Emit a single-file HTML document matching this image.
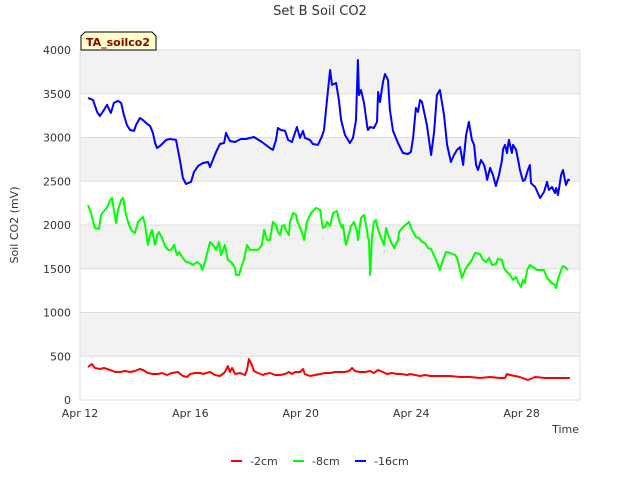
<!DOCTYPE html>
<html><head><meta charset="utf-8"><style>
html,body{margin:0;padding:0;background:#fff;}
svg text{font-family:"DejaVu Sans","Liberation Sans",sans-serif;}
</style></head><body>
<svg id="chart" width="640" height="480" viewBox="0 0 640 480" xmlns="http://www.w3.org/2000/svg">
<rect width="640" height="480" fill="#fff"/>
<text x="320" y="15" text-anchor="middle" font-size="13" fill="#333">Set B Soil CO2</text>
<g id="bands"></g>
<g id="grid"></g>
<g id="yticks"></g>
<g id="xticks"></g>
<text transform="translate(18,225) rotate(-90)" text-anchor="middle" font-size="11" fill="#333">Soil CO2 (mV)</text>
<text x="579" y="433" text-anchor="end" font-size="11" fill="#333">Time</text>
<g id="series"></g>
<g>
<path d="M81,50 L81,36 L85,32 L152,32 L156,36 L156,50 Z" fill="#ffffcc" stroke="#000" stroke-width="1"/>
<text x="118" y="46" text-anchor="middle" font-size="11" font-weight="bold" fill="#8b0000">TA_soilco2</text>
</g>
<g>
<line x1="231" y1="461" x2="242" y2="461" stroke="#ff0000" stroke-width="2"/>
<text x="250" y="465" font-size="11" fill="#333">-2cm</text>
<line x1="293" y1="461" x2="304" y2="461" stroke="#00ff00" stroke-width="2"/>
<text x="312" y="465" font-size="11" fill="#333">-8cm</text>
<line x1="355" y1="461" x2="366" y2="461" stroke="#0000ff" stroke-width="2"/>
<text x="374" y="465" font-size="11" fill="#333">-16cm</text>
</g>
</svg>
<script>
const yTicks=[0,500,1000,1500,2000,2500,3000,3500,4000];
const xTickDays=[0,4,8,12,16];
const xTickLabels=["Apr 12","Apr 16","Apr 20","Apr 24","Apr 28"];
const blueDays=[0.29,0.47,0.62,0.72,0.87,0.98,1.12,1.23,1.38,1.49,1.59,1.70,1.81,1.96,2.03,2.17,2.28,2.43,2.54,2.64,2.72,2.79,2.90,3.01,3.12,3.26,3.48,3.62,3.73,3.84,4.02,4.13,4.28,4.46,4.64,4.71,4.93,5.07,5.22,5.29,5.43,5.62,5.83,6.01,6.30,6.59,6.88,6.99,7.10,7.17,7.28,7.43,7.54,7.68,7.86,7.97,8.08,8.15,8.33,8.44,8.62,8.77,8.84,8.95,9.06,9.13,9.28,9.38,9.46,9.60,9.78,9.89,10.00,10.07,10.11,10.18,10.29,10.40,10.43,10.51,10.65,10.76,10.80,10.87,10.98,11.05,11.16,11.23,11.34,11.52,11.70,11.88,11.99,12.07,12.17,12.25,12.32,12.39,12.57,12.72,12.83,12.93,13.04,13.19,13.30,13.44,13.55,13.66,13.77,13.84,13.88,13.99,14.09,14.20,14.28,14.35,14.42,14.53,14.64,14.71,14.75,14.86,14.96,15.07,15.18,15.29,15.33,15.40,15.47,15.54,15.65,15.69,15.80,15.91,15.94,16.05,16.12,16.23,16.30,16.34,16.41,16.49,16.67,16.81,16.92,16.99,17.10,17.21,17.25,17.32,17.43,17.50,17.61,17.68,17.75];
const blueVals=[3452,3429,3292,3246,3315,3372,3280,3395,3418,3395,3258,3143,3086,3075,3143,3223,3200,3155,3132,3052,2937,2880,2903,2937,2972,2983,2972,2743,2537,2469,2492,2606,2675,2709,2720,2663,2835,2926,2937,3052,2960,2949,2983,2983,3006,2949,2880,2858,2972,3109,3086,3075,2972,2949,3120,2995,3075,2995,2972,2926,2915,3018,3086,3429,3772,3601,3623,3429,3200,3029,2937,2995,3200,3886,3486,3543,3395,3143,3086,3120,3109,3178,3520,3406,3635,3726,3658,3315,3075,2937,2823,2812,2835,2995,3338,3292,3429,3406,3143,2800,3063,3486,3543,3258,2915,2720,2800,2858,2892,2766,2686,3029,3178,2972,2915,2686,2629,2743,2686,2595,2515,2652,2572,2446,2572,2743,2869,2915,2823,2972,2823,2915,2858,2686,2629,2503,2515,2629,2686,2480,2457,2435,2309,2377,2492,2400,2435,2366,2423,2343,2572,2629,2457,2515,2515];
const greenDays=[0.29,0.40,0.54,0.69,0.76,0.91,1.01,1.09,1.16,1.20,1.30,1.38,1.49,1.56,1.67,1.74,1.85,1.99,2.10,2.17,2.28,2.36,2.43,2.46,2.54,2.61,2.68,2.72,2.79,2.86,2.97,3.08,3.19,3.30,3.41,3.51,3.59,3.73,3.84,3.99,4.09,4.24,4.38,4.42,4.53,4.71,4.82,4.93,5.04,5.11,5.25,5.36,5.51,5.62,5.65,5.76,5.87,5.94,6.05,6.16,6.30,6.45,6.59,6.67,6.78,6.88,6.99,7.10,7.17,7.25,7.32,7.39,7.46,7.57,7.61,7.72,7.83,7.86,8.01,8.12,8.22,8.37,8.55,8.70,8.80,8.88,8.95,9.06,9.17,9.31,9.38,9.49,9.53,9.60,9.64,9.71,9.82,9.93,10.04,10.07,10.18,10.29,10.40,10.43,10.47,10.51,10.58,10.65,10.72,10.80,10.91,11.01,11.09,11.16,11.27,11.38,11.52,11.56,11.67,11.92,12.03,12.17,12.28,12.39,12.50,12.61,12.72,12.90,13.04,13.15,13.26,13.41,13.59,13.66,13.77,13.84,13.95,14.06,14.20,14.31,14.49,14.60,14.71,14.82,14.93,15.07,15.14,15.29,15.36,15.47,15.58,15.69,15.80,15.87,15.98,16.05,16.12,16.20,16.30,16.41,16.56,16.67,16.81,16.92,16.99,17.10,17.21,17.25,17.32,17.43,17.50,17.61,17.68];
const greenVals=[2229,2137,1966,1955,2115,2172,2217,2286,2309,2229,2023,2172,2286,2309,2115,2035,1943,1909,2035,2057,2092,2000,1829,1772,1886,1943,1829,1772,1886,1920,1852,1760,1715,1715,1772,1657,1692,1623,1577,1566,1543,1577,1543,1486,1577,1806,1772,1715,1806,1657,1772,1600,1566,1509,1429,1429,1543,1600,1772,1715,1715,1715,1772,1943,1829,1829,2035,2000,1920,1886,1989,2000,1943,1886,2035,2137,2115,2057,1943,1829,2035,2137,2195,2172,1966,1977,2035,1989,2137,2160,2057,1966,2000,1829,1772,1863,1989,2035,1920,1829,2080,2115,1943,1852,1829,1429,1863,2035,2057,1943,1852,1772,1966,1886,1806,1737,1829,1920,1966,2035,1943,1863,1852,1806,1795,1737,1726,1600,1486,1600,1692,1680,1657,1623,1486,1394,1486,1543,1600,1680,1669,1600,1577,1623,1543,1554,1612,1600,1509,1463,1429,1372,1406,1349,1292,1372,1337,1486,1543,1520,1486,1486,1486,1394,1372,1337,1315,1280,1383,1486,1532,1509,1486];
const redDays=[0.29,0.43,0.54,0.72,0.87,1.09,1.27,1.45,1.63,1.81,1.99,2.17,2.28,2.46,2.64,2.83,2.97,3.15,3.33,3.55,3.73,3.88,3.99,4.17,4.35,4.49,4.57,4.71,4.89,5.07,5.22,5.29,5.36,5.43,5.51,5.62,5.80,5.98,6.05,6.12,6.23,6.30,6.45,6.63,6.70,6.88,7.07,7.25,7.43,7.57,7.68,7.79,7.97,8.08,8.15,8.33,8.51,8.70,8.88,9.06,9.24,9.42,9.60,9.75,9.86,9.96,10.14,10.33,10.51,10.65,10.80,10.98,11.12,11.30,11.49,11.67,11.85,11.96,12.14,12.32,12.50,12.68,13.04,13.41,13.77,14.13,14.49,14.86,15.22,15.40,15.47,15.58,15.94,16.23,16.49,16.85,17.03,17.39,17.75];
const redVals=[377,411,366,354,366,343,320,320,331,320,331,354,343,309,297,297,309,286,309,320,274,263,297,309,309,297,309,320,286,274,309,343,389,320,366,297,309,286,343,469,400,331,309,286,297,309,286,286,297,320,297,320,320,354,297,274,286,297,309,309,320,320,320,331,366,331,320,320,331,309,343,320,297,309,297,297,286,297,286,274,286,274,274,274,263,263,251,263,251,251,297,286,263,229,263,251,251,251,251];

const L=80,R=580,T=50,B=400,day0=0,pxPerDay=27.6;
const NS="http://www.w3.org/2000/svg";
function xs(d){return L+(d-day0)*pxPerDay;}
function ys(v){return B-(v/4000)*(B-T);}
function mk(tag,attrs,parent){const e=document.createElementNS(NS,tag);for(const k in attrs)e.setAttribute(k,attrs[k]);parent.appendChild(e);return e;}
const bands=document.getElementById('bands'),grid=document.getElementById('grid'),yt=document.getElementById('yticks'),xt=document.getElementById('xticks'),ser=document.getElementById('series');
for(let i=0;i<yTicks.length-1;i++){
  if(i%2===1){
    const r=mk('rect',{x:L,y:ys(yTicks[i+1]),width:R-L,height:ys(yTicks[i])-ys(yTicks[i+1]),fill:'#f2f2f2'},bands);
    
    
  }
}
yTicks.forEach(v=>{
  const ln=mk('line',{x1:L,x2:R,y1:ys(v),y2:ys(v),stroke:'#dddddd','stroke-width':1},grid);
  
  
  const t=mk('text',{x:L-9,y:ys(v)+4,'text-anchor':'end','font-size':11,fill:'#333'},yt);
  t.textContent=v;
  
  
});
const ax=mk('line',{x1:L,x2:L,y1:T,y2:B,stroke:'#dddddd','stroke-width':1},grid);


const ax2=mk('line',{x1:R,x2:R,y1:T,y2:B,stroke:'#dddddd','stroke-width':1},grid);


xTickDays.forEach((d,i)=>{
  const t=mk('text',{x:xs(d),y:417,'text-anchor':'middle','font-size':11,fill:'#333'},xt);
  t.textContent=xTickLabels[i];
  
  
});
function line(days,vals,color,name){
  const pts=days.map((d,i)=>xs(d).toFixed(1)+','+ys(vals[i]).toFixed(1)).join(' ');
  const p=mk('polyline',{points:pts,fill:'none',stroke:color,'stroke-width':2,'stroke-linejoin':'round'},ser);
  
  
}
line(redDays,redVals,'#ff0000','series-2cm');
line(greenDays,greenVals,'#00ff00','series-8cm');
line(blueDays,blueVals,'#0000ff','series-16cm');
</script>
</body></html>
